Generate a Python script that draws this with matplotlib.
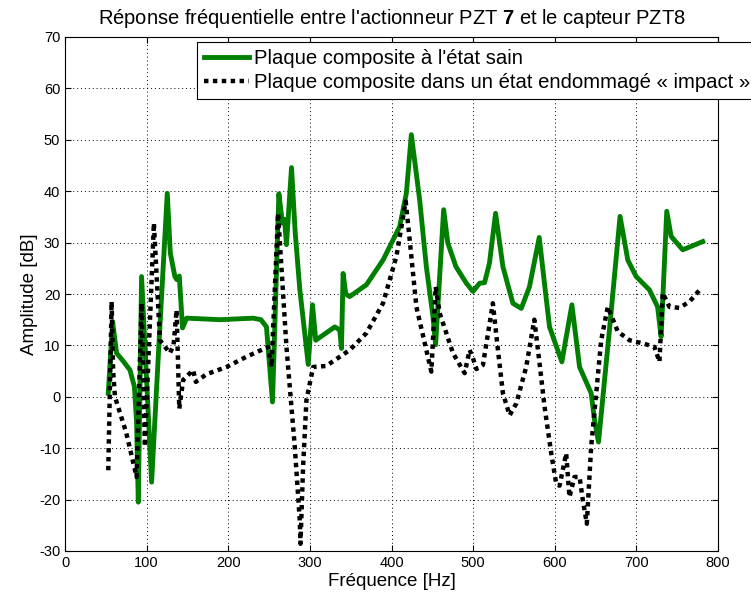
import matplotlib
matplotlib.use("Agg")
import matplotlib.pyplot as plt
import numpy as np

# frequency response, healthy plate (green)
freq_sain = [53, 58.3, 63.2, 72, 79.6, 85, 87.7, 89.8, 93.8, 106.1, 115, 125.3, 129, 134.6,
             137, 140, 144, 149, 190, 230.5, 240, 246.8, 254.2, 262, 266.4, 269, 271.3, 277.5,
             282, 287.6, 298, 303.2, 307.2, 330.5, 336.6, 338.7, 340.7, 344, 348.8, 369.3,
             389.6, 410, 418.2, 424.3, 434.5, 442.7, 450.8, 454, 463.9, 469, 479, 491.7,
             499.8, 508, 514, 520, 527.5, 536.5, 548.7, 559, 569, 581, 586, 593.6, 608.7,
             621, 630.4, 644.6, 648.7, 653.6, 667, 680, 689.5, 699.7, 716, 726, 730.3,
             737.2, 742.6, 756.8, 781.3]
amp_sain = [0.7, 14.6, 8.5, 6.8, 5.2, 2.0, -5, -20.5, 23.4, -16.6, 10, 39.6, 28, 23.4,
            22.8, 23.5, 13.4, 15.3, 15.0, 15.3, 15.0, 13.6, -1, 39.5, 33.8, 34.5, 29.6, 44.6,
            32, 21, 6.3, 17.9, 11, 13.6, 13, 9.4, 24, 20, 19.5, 21.8,
            26.6, 33.1, 39.6, 51, 38.3, 25.3, 15.6, 10.1, 36.4, 29.9, 25.3, 22.1,
            20.5, 22.1, 22.2, 26, 35.7, 25.3, 18.2, 17.2, 21.4, 31, 24, 13.6, 6.8,
            17.9, 5.8, 0.7, -4.5, -8.8, 13, 35.1, 26.6, 23.4, 20.8, 17.5, 11.7,
            36.1, 31.2, 28.6, 30.2]

# damaged plate (impact), black dotted
freq_impact = [53, 57.1, 59, 61.2, 75, 87.7, 93.8, 97.9, 108.9, 116.3, 128.5, 133, 136.7,
               140, 144.8, 157, 160.3, 173.4, 197.9, 222.4, 248.9, 253, 261, 271.3, 281.5,
               287.6, 288.5, 291.7, 295.8, 304, 320, 348.8, 369.3, 389.6, 406, 417.4,
               422.3, 430.5, 442.7, 448.8, 454.1, 459, 475.3, 489.6, 495.7, 499.8, 504,
               512, 524.2, 530.4, 536.5, 544.7, 552.9, 565, 575, 581.4, 587.5, 595.7,
               601.8, 605.9, 614, 618, 624.2, 630.4, 634.4, 639.3, 644.6, 650.8, 656.9,
               665, 677.2, 691.6, 707.8, 722.2, 728.3, 732.3, 740.5, 752.8, 765, 779.3]
amp_impact = [-14.3, 18.5, 5, 0, -7, -15.6, 18.2, -9.7, 33.8, 11, 8.5, 10, 16.9,
              -2.3, 3.3, 5.2, 2.9, 4.4, 5.8, 7.8, 9.7, 5.8, 35.7, 9.7, -9.7,
              -24, -28.6, -13.6, -0.6, 5.8, 6, 9.1, 12.4, 18.2, 27.3, 38,
              30.5, 17.5, 9.1, 4.9, 21.4, 16.3, 8.5, 4.6, 9.1, 7.5, 5.4,
              6.2, 18.2, 9.1, 0.7, -3.6, -1.3, 5.8, 15, 6.5, -1.9, -11,
              -16.9, -17.3, -11, -19.5, -15.6, -15.6, -20.1, -24.7, -9.7, 0.7, 11,
              17.5, 12.7, 11, 10.4, 9.7, 6.8, 20.2, 17.5, 17.3, 18.5, 21.1]

plt.rcParams['font.family'] = ['Liberation Sans', 'DejaVu Sans']
plt.rcParams['mathtext.fontset'] = 'custom'
plt.rcParams['mathtext.bf'] = 'Liberation Sans:bold'
plt.rcParams['mathtext.rm'] = 'Liberation Sans'
plt.rcParams['axes.unicode_minus'] = False

fig = plt.figure(figsize=(7.51, 5.97), dpi=100)
ax = fig.add_axes([65/751, 46/597, 653/751, 514/597])

ax.plot(freq_sain, amp_sain, color='#007f00', linewidth=3.5,
        label="Plaque composite à l'état sain")
ax.plot(freq_impact, amp_impact, color='black', linewidth=3.2, linestyle=(0, (1, 1)),
        label="Plaque composite dans un état endommagé « impact »")

ax.set_xlim(0, 800)
ax.set_ylim(-30, 70)
ax.set_xticks(np.arange(0, 801, 100))
ax.set_yticks(np.arange(-30, 71, 10))
ax.tick_params(direction='in', top=True, right=True, labelsize=10.5, length=4)
ax.grid(True, color='black', linestyle=(0, (1, 3)), linewidth=0.7)

ax.set_xlabel('Fréquence [Hz]', fontsize=13.5, labelpad=2)
ax.set_ylabel('Amplitude [dB]', fontsize=13.5, labelpad=1)
ax.set_title(r"Réponse fréquentielle entre l'actionneur PZT $\mathbf{7}$ et le capteur PZT8",
             fontsize=14.5, pad=9)

leg = ax.legend(loc='upper left', bbox_to_anchor=(197/751, 1 - 42/597),
                bbox_transform=fig.transFigure, fontsize=14.6, fancybox=False,
                framealpha=1, edgecolor='black', borderpad=0.35, labelspacing=0.25,
                handlelength=2.2, handletextpad=0.25, borderaxespad=0)
leg.get_frame().set_linewidth(0.8)

fig.savefig('out.png', dpi=100)
